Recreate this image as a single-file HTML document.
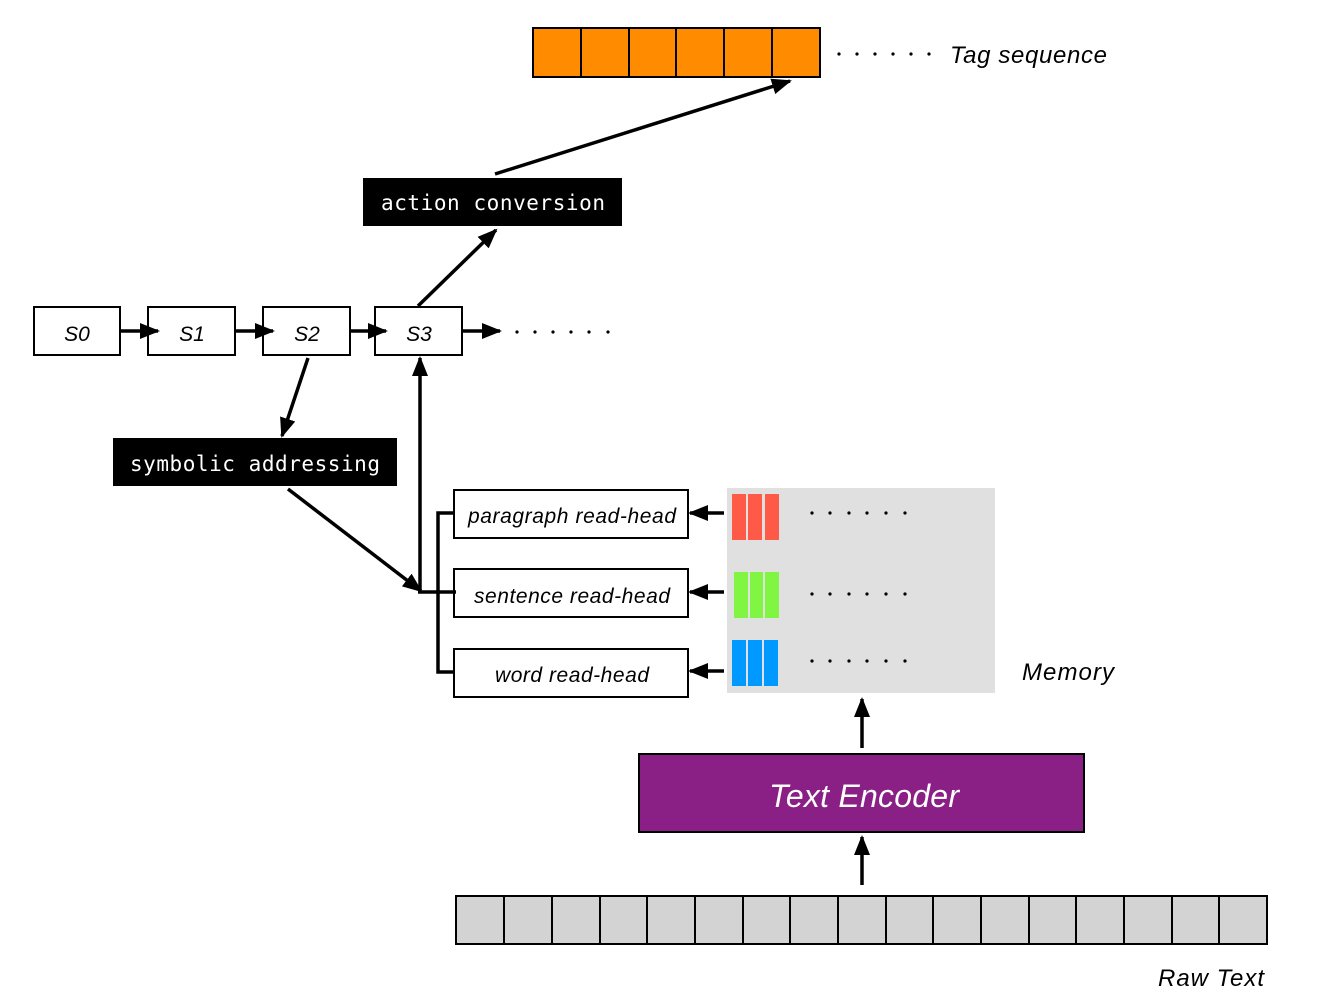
<!DOCTYPE html>
<html><head><meta charset="utf-8"><style>
html,body{margin:0;padding:0;background:#fff;}
svg{display:block;}
.it{font-family:"Liberation Sans",sans-serif;font-style:italic;}
.mono{font-family:"DejaVu Sans Mono","Liberation Mono",monospace;}
</style></head><body>
<svg width="1332" height="1008" viewBox="0 0 1332 1008" xmlns="http://www.w3.org/2000/svg">
<defs>
<marker id="ah" markerUnits="userSpaceOnUse" markerWidth="20" markerHeight="16" refX="18" refY="8" orient="auto">
<polygon points="0,0 20,8 0,16" fill="#000"/>
</marker>
</defs>
<!-- Tag sequence -->
<g stroke="#000" stroke-width="2" fill="#FF8C00">
<rect x="533" y="28" width="287" height="49"/>
<line x1="581" y1="28" x2="581" y2="77"/><line x1="629" y1="28" x2="629" y2="77"/>
<line x1="676" y1="28" x2="676" y2="77"/><line x1="724" y1="28" x2="724" y2="77"/>
<line x1="772" y1="28" x2="772" y2="77"/>
</g>
<g fill="#000">
<circle cx="839" cy="54" r="1.6"/><circle cx="857" cy="54" r="1.6"/><circle cx="875" cy="54" r="1.6"/><circle cx="893" cy="54" r="1.6"/><circle cx="911" cy="54" r="1.6"/><circle cx="929" cy="54" r="1.6"/>
<circle cx="517" cy="332" r="1.6"/><circle cx="535" cy="332" r="1.6"/><circle cx="553" cy="332" r="1.6"/><circle cx="571" cy="332" r="1.6"/><circle cx="589" cy="332" r="1.6"/><circle cx="608" cy="332" r="1.6"/>
<circle cx="812" cy="513" r="1.6"/><circle cx="830" cy="513" r="1.6"/><circle cx="849" cy="513" r="1.6"/><circle cx="867" cy="513" r="1.6"/><circle cx="886" cy="513" r="1.6"/><circle cx="905" cy="513" r="1.6"/>
<circle cx="812" cy="594" r="1.6"/><circle cx="830" cy="594" r="1.6"/><circle cx="849" cy="594" r="1.6"/><circle cx="867" cy="594" r="1.6"/><circle cx="886" cy="594" r="1.6"/><circle cx="905" cy="594" r="1.6"/>
<circle cx="812" cy="661" r="1.6"/><circle cx="830" cy="661" r="1.6"/><circle cx="849" cy="661" r="1.6"/><circle cx="867" cy="661" r="1.6"/><circle cx="886" cy="661" r="1.6"/><circle cx="905" cy="661" r="1.6"/>
</g>
<text x="950" y="63" class="it" font-size="24" textLength="157">Tag sequence</text>
<!-- action conversion -->
<rect x="363" y="178" width="259" height="48" fill="#000"/>
<text x="493" y="210" class="mono" font-size="21" fill="#fff" text-anchor="middle" textLength="224">action conversion</text>
<!-- states -->
<g stroke="#000" stroke-width="2" fill="#fff">
<rect x="34" y="307" width="86" height="48"/>
<rect x="148" y="307" width="87" height="48"/>
<rect x="263" y="307" width="87" height="48"/>
<rect x="375" y="307" width="87" height="48"/>
</g>
<g class="it" font-size="21" text-anchor="middle">
<text x="77" y="341">S0</text><text x="192" y="341">S1</text>
<text x="307" y="341">S2</text><text x="419" y="341">S3</text>
</g>
<!-- symbolic addressing -->
<rect x="113" y="438" width="284" height="48" fill="#000"/>
<text x="255" y="471" class="mono" font-size="21" fill="#fff" text-anchor="middle" textLength="250">symbolic addressing</text>
<!-- memory -->
<rect x="727" y="488" width="268" height="205" fill="#e0e0e0"/>
<g fill="#FF5A47"><rect x="732" y="494" width="14" height="46"/><rect x="748" y="494" width="14" height="46"/><rect x="765" y="494" width="14" height="46"/></g>
<g fill="#80F542"><rect x="734" y="572" width="14" height="46"/><rect x="750" y="572" width="13" height="46"/><rect x="765" y="572" width="14" height="46"/></g>
<g fill="#0099FF"><rect x="732" y="640" width="14" height="46"/><rect x="748" y="640" width="14" height="46"/><rect x="764" y="640" width="14" height="46"/></g>
<g fill="#000">
<circle cx="812" cy="513" r="1.6"/><circle cx="830" cy="513" r="1.6"/><circle cx="849" cy="513" r="1.6"/><circle cx="867" cy="513" r="1.6"/><circle cx="886" cy="513" r="1.6"/><circle cx="905" cy="513" r="1.6"/>
<circle cx="812" cy="594" r="1.6"/><circle cx="830" cy="594" r="1.6"/><circle cx="849" cy="594" r="1.6"/><circle cx="867" cy="594" r="1.6"/><circle cx="886" cy="594" r="1.6"/><circle cx="905" cy="594" r="1.6"/>
<circle cx="812" cy="661" r="1.6"/><circle cx="830" cy="661" r="1.6"/><circle cx="849" cy="661" r="1.6"/><circle cx="867" cy="661" r="1.6"/><circle cx="886" cy="661" r="1.6"/><circle cx="905" cy="661" r="1.6"/>
</g>
<text x="1022" y="680" class="it" font-size="24" textLength="92">Memory</text>
<!-- read heads -->
<g stroke="#000" stroke-width="2" fill="#fff">
<rect x="454" y="490" width="234" height="48"/>
<rect x="454" y="569" width="234" height="48"/>
<rect x="454" y="649" width="234" height="48"/>
</g>
<g class="it" font-size="21" text-anchor="middle">
<text x="572" y="523" textLength="208">paragraph read-head</text>
<text x="572" y="603" textLength="196">sentence read-head</text>
<text x="572" y="682" textLength="154">word read-head</text>
</g>
<!-- connectors -->
<g stroke="#000" stroke-width="3.5" fill="none">
<line x1="495" y1="174" x2="790" y2="81" marker-end="url(#ah)"/>
<line x1="418" y1="306" x2="496" y2="230" marker-end="url(#ah)"/>
<line x1="120" y1="331" x2="158" y2="331" marker-end="url(#ah)"/>
<line x1="236" y1="331" x2="273" y2="331" marker-end="url(#ah)"/>
<line x1="351" y1="331" x2="386" y2="331" marker-end="url(#ah)"/>
<line x1="463" y1="331" x2="500" y2="331" marker-end="url(#ah)"/>
<line x1="308" y1="358" x2="282" y2="436" marker-end="url(#ah)"/>
<line x1="288" y1="489" x2="421" y2="591" marker-end="url(#ah)"/>
<line x1="420" y1="592" x2="420" y2="358" marker-end="url(#ah)"/>
<line x1="418" y1="592" x2="456" y2="592"/>
<polyline points="454,513 438,513 438,672 454,672"/>
<line x1="724" y1="513" x2="690" y2="513" marker-end="url(#ah)"/>
<line x1="724" y1="592" x2="690" y2="592" marker-end="url(#ah)"/>
<line x1="724" y1="671" x2="690" y2="671" marker-end="url(#ah)"/>
<line x1="862" y1="748" x2="862" y2="699" marker-end="url(#ah)"/>
<line x1="862" y1="885" x2="862" y2="837" marker-end="url(#ah)"/>
</g>
<!-- encoder -->
<rect x="639" y="754" width="445" height="78" fill="#8A1F85" stroke="#000" stroke-width="2"/>
<text x="864" y="807" class="it" font-size="32" fill="#fff" text-anchor="middle" textLength="190">Text Encoder</text>
<!-- raw text -->
<g stroke="#000" stroke-width="2" fill="#d3d3d3">
<rect x="456" y="896" width="811" height="48"/>
<line x1="504" y1="896" x2="504" y2="944"/><line x1="552" y1="896" x2="552" y2="944"/>
<line x1="600" y1="896" x2="600" y2="944"/><line x1="647" y1="896" x2="647" y2="944"/>
<line x1="695" y1="896" x2="695" y2="944"/><line x1="743" y1="896" x2="743" y2="944"/>
<line x1="790" y1="896" x2="790" y2="944"/><line x1="838" y1="896" x2="838" y2="944"/>
<line x1="886" y1="896" x2="886" y2="944"/><line x1="933" y1="896" x2="933" y2="944"/>
<line x1="981" y1="896" x2="981" y2="944"/><line x1="1029" y1="896" x2="1029" y2="944"/>
<line x1="1076" y1="896" x2="1076" y2="944"/><line x1="1124" y1="896" x2="1124" y2="944"/>
<line x1="1172" y1="896" x2="1172" y2="944"/><line x1="1219" y1="896" x2="1219" y2="944"/>
</g>
<text x="1158" y="986" class="it" font-size="24" textLength="106">Raw Text</text>
</svg>
</body></html>
